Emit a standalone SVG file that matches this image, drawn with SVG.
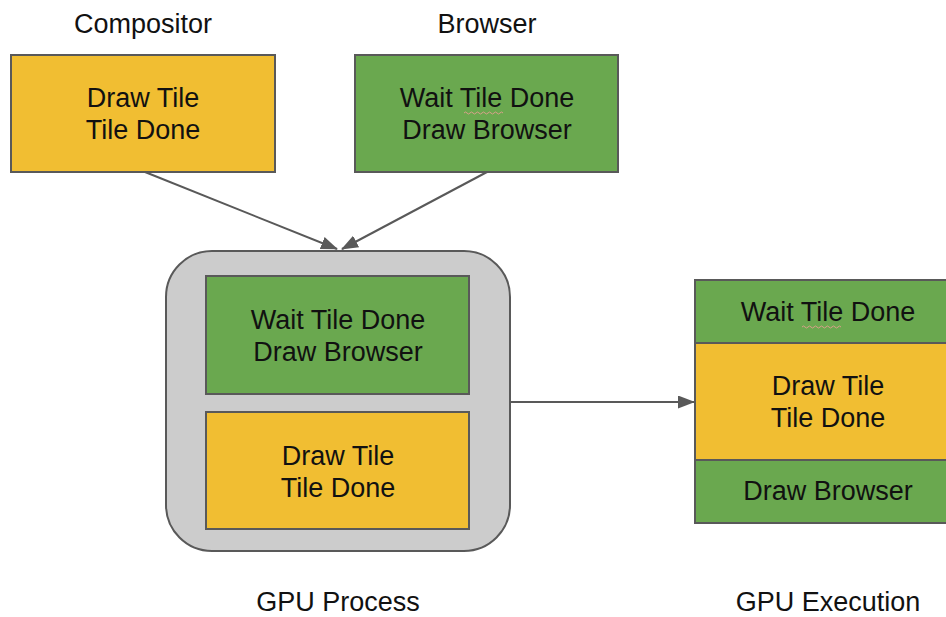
<svg xmlns="http://www.w3.org/2000/svg" width="946" height="617" viewBox="0 0 946 617">
<style>
.t{font-family:"Liberation Sans",Arial,sans-serif;font-size:27px;fill:#111;text-anchor:middle}
.y{fill:#F1BE32;stroke:#595959;stroke-width:2}
.g{fill:#6AA84F;stroke:#595959;stroke-width:2}
.c{fill:none;stroke:#595959;stroke-width:2}
.sq{fill:none;stroke:#d9a08a;stroke-width:1}
</style>
<defs>
<marker id="ah" viewBox="0 0 17 13" refX="16" refY="6.5" markerWidth="17" markerHeight="13" markerUnits="userSpaceOnUse" orient="auto">
<path d="M0,0 L17,6.5 L0,13 z" fill="#595959"/>
</marker>
</defs>
<rect width="946" height="617" fill="#fff"/>
<text class="t" x="143" y="33">Compositor</text>
<text class="t" x="487" y="33">Browser</text>
<g id="compositor">
<rect class="y" x="11" y="55" width="264" height="117"/>
<text class="t" x="143" y="107">Draw Tile</text>
<text class="t" x="143" y="139">Tile Done</text>
</g>
<g id="browser">
<rect class="g" x="355" y="55" width="263" height="117"/>
<text class="t" x="487" y="107">Wait Tile Done</text>
<text class="t" x="487" y="139">Draw Browser</text>
<path class="sq" d="M464,113 q1.5,-2 3,0 t3,0 t3,0 t3,0 t3,0 t3,0 t3,0 t3,0 t3,0 t3,0 t3,0 t3,0 t3,0"/>
</g>
<g id="gpu-process">
<rect x="166" y="251" width="344" height="300" rx="46" ry="46" fill="#CCCCCC" stroke="#595959" stroke-width="2"/>
<rect class="g" x="206" y="276" width="263" height="118"/>
<text class="t" x="338" y="329">Wait Tile Done</text>
<text class="t" x="338" y="361">Draw Browser</text>
<rect class="y" x="206" y="412" width="263" height="117"/>
<text class="t" x="338" y="465">Draw Tile</text>
<text class="t" x="338" y="497">Tile Done</text>
</g>
<g id="gpu-execution">
<rect class="g" x="695" y="280" width="264" height="63"/>
<text class="t" x="828" y="321">Wait Tile Done</text>
<path class="sq" d="M802,327 q1.5,-2 3,0 t3,0 t3,0 t3,0 t3,0 t3,0 t3,0 t3,0 t3,0 t3,0 t3,0 t3,0 t3,0"/>
<rect class="y" x="695" y="343" width="264" height="117"/>
<text class="t" x="828" y="395">Draw Tile</text>
<text class="t" x="828" y="427">Tile Done</text>
<rect class="g" x="695" y="460" width="264" height="63"/>
<text class="t" x="828" y="500">Draw Browser</text>
</g>
<text class="t" x="338" y="611">GPU Process</text>
<text class="t" x="828" y="611">GPU Execution</text>
<g id="connectors">
<line class="c" x1="145" y1="172" x2="337" y2="249" marker-end="url(#ah)"/>
<line class="c" x1="487" y1="172" x2="342" y2="249" marker-end="url(#ah)"/>
<line class="c" x1="510" y1="402" x2="694" y2="402" marker-end="url(#ah)"/>
</g>
</svg>
